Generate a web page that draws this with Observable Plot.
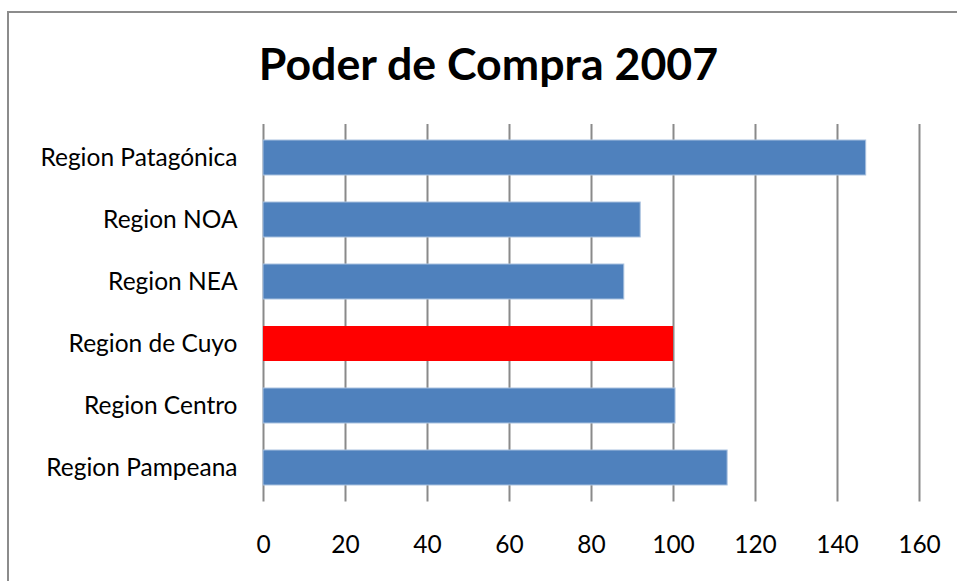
<!DOCTYPE html>
<html>
<head>
<meta charset="utf-8">
<script src="https://cdn.jsdelivr.net/npm/d3@7"></script>
<script src="https://cdn.jsdelivr.net/npm/@observablehq/plot@0.6"></script>
<style>
  html, body { margin: 0; padding: 0; background: #fff; overflow: hidden; }
  #frame { position: absolute; left: 7px; top: 11px; width: 1200px; height: 1200px;
           border-left: 2px solid #8c8c8c; border-top: 2px solid #8c8c8c; }
  #title { position: absolute; left: 10px; top: 38px; width: 957px; text-align: center;
           font-family: Lato, "Open Sans", sans-serif; font-weight: bold; font-size: 44.7px;
           line-height: 50px; color: #000; }
  #chart { position: absolute; left: 0; top: 100px; }
</style>
</head>
<body>
<div id="frame"></div>
<div id="title">Poder de Compra 2007</div>
<div id="chart"></div>
<script>
const regions = ["Region Patagónica", "Region NOA", "Region NEA", "Region de Cuyo", "Region Centro", "Region Pampeana"];
const values = [147, 92, 88, 100, 100.5, 113.2];
const xTicks = [0, 20, 40, 60, 80, 100, 120, 140, 160];
const highlighted = "Region de Cuyo";

const data = regions.map((r, i) => ({region: r, value: values[i]}));

const chart = Plot.plot({
  width: 957,
  height: 481,
  marginTop: 24,
  marginBottom: 79.5,
  marginLeft: 263,
  marginRight: 38,
  style: {fontFamily: "Lato, 'Open Sans', sans-serif", fontSize: "24.5px", color: "#000", background: "transparent"},
  x: {domain: [0, 160], ticks: xTicks, tickSize: 0, tickPadding: 34, label: null},
  y: {domain: regions, paddingInner: 0.43, paddingOuter: 0.215, tickSize: 0, tickPadding: 26, label: null},
  marks: [
    Plot.ruleX(xTicks, {stroke: "#8a8a8a", strokeWidth: 2}),
    Plot.barX(data, {
      x: "value",
      y: "region",
      fill: d => d.region === highlighted ? "#FF0000" : "#4F81BD",
      stroke: d => d.region === highlighted ? "none" : "#a9c1df",
      strokeWidth: 1
    })
  ]
});
document.getElementById("chart").appendChild(chart);
</script>
</body>
</html>
